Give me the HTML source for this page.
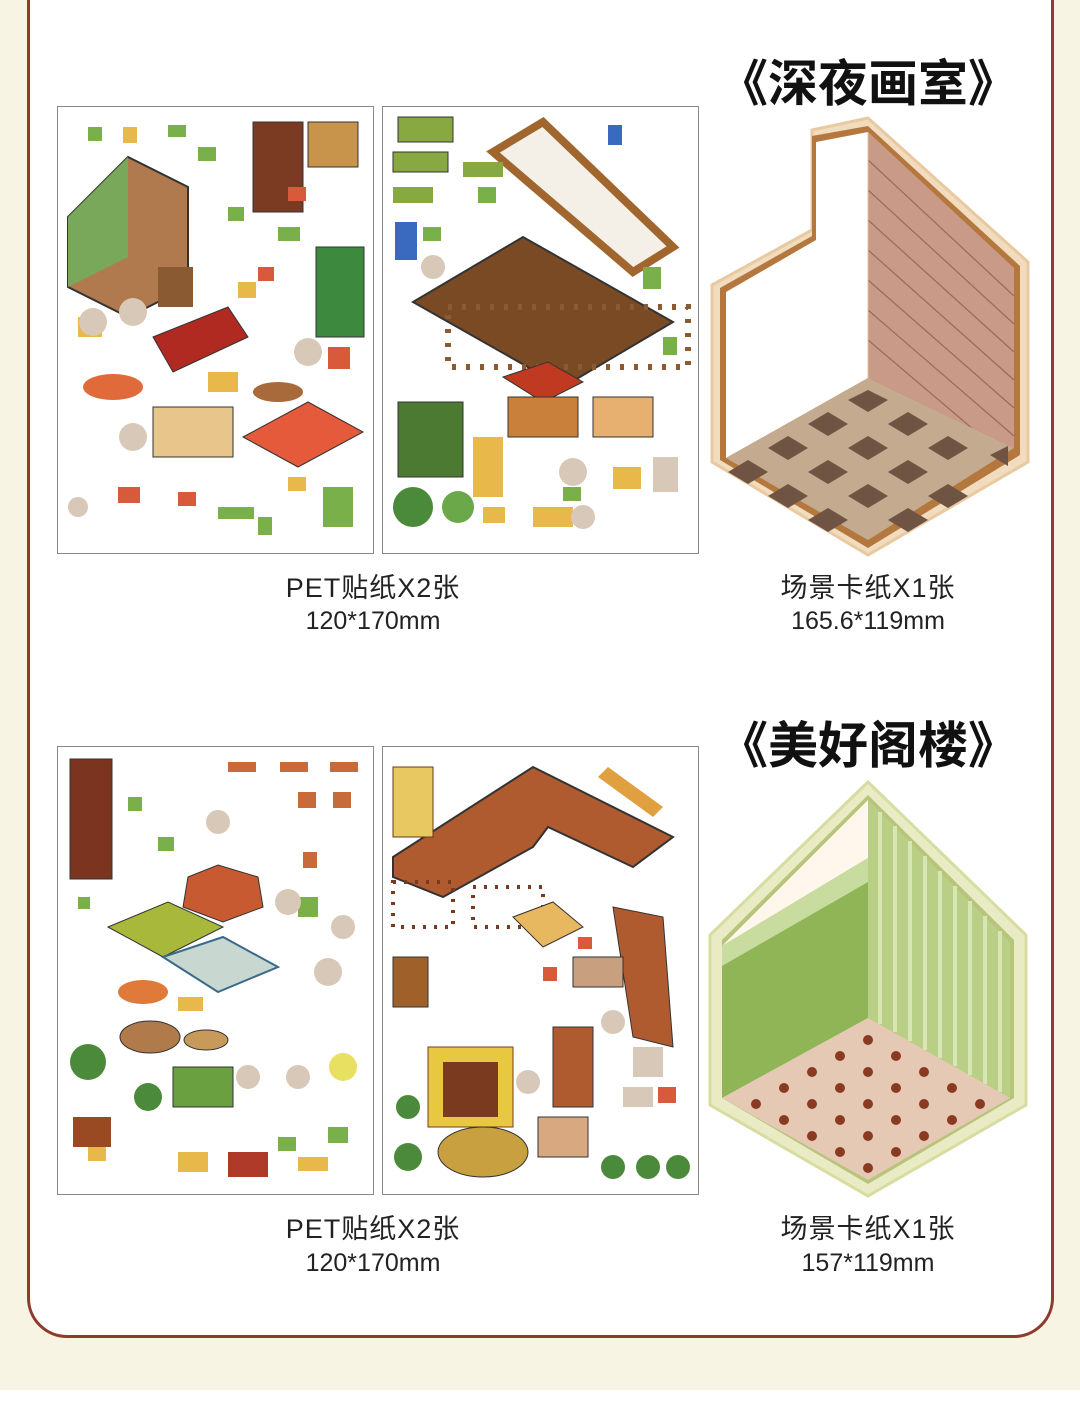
<!DOCTYPE html>
<html><head><meta charset="utf-8">
<style>
html,body{margin:0;padding:0}
body{width:1080px;height:1410px;background:#f8f4e4;position:relative;overflow:hidden;font-family:"Liberation Sans","Noto Sans CJK SC",sans-serif}
.card{position:absolute;left:27px;top:-40px;width:1027px;height:1378px;background:#fff;border:3px solid #8e3b2c;border-radius:0 0 40px 40px;box-sizing:border-box}
.sheet{position:absolute;border:1.5px solid #888;background:#fff;box-sizing:border-box;overflow:hidden}
.t{position:absolute;text-align:center;color:#222;width:360px}
.title{position:absolute;font-weight:bold;font-size:50px;color:#111;width:360px;text-align:center;font-family:"Noto Sans CJK SC",sans-serif}
.cap{font-size:27px;letter-spacing:1px}
.dim{font-size:25px}
.bot{position:absolute;left:0;top:1390px;width:1080px;height:20px;background:#fff}
</style></head><body>
<div class="card"></div>
<div class="bot"></div>

<div class="title" style="left:688px;top:44px">《深夜画室》</div>
<div class="title" style="left:688px;top:706px">《美好阁楼》</div>

<!-- sheets row 1 -->
<div class="sheet" style="left:57px;top:106px;width:317px;height:448px">
<svg width="317" height="448">
<polygon points="10,110 70,50 130,80 130,180 70,210 10,180" fill="#b07a4e" stroke="#333" stroke-width="2"/>
<polygon points="10,110 70,50 70,150 10,180" fill="#7aa85a"/>
<rect x="195" y="15" width="50" height="90" fill="#7a3b22" stroke="#333"/>
<rect x="250" y="15" width="50" height="45" fill="#c8934a" stroke="#333"/>
<rect x="258" y="140" width="48" height="90" fill="#3d8a3f" stroke="#333"/>
<polygon points="95,230 170,200 190,230 115,265" fill="#b02a22" stroke="#333"/>
<rect x="95" y="300" width="80" height="50" fill="#e8c58a" stroke="#333"/>
<polygon points="185,330 250,295 305,325 240,360" fill="#e55a3a" stroke="#333"/>
<ellipse cx="55" cy="280" rx="30" ry="13" fill="#e06a3a"/>
<ellipse cx="220" cy="285" rx="25" ry="10" fill="#a86a3a"/>
<rect x="100" y="160" width="35" height="40" fill="#8a5a32"/>
<g fill="#7ab04a"><rect x="30" y="20" width="14" height="14"/><rect x="110" y="18" width="18" height="12"/><rect x="140" y="40" width="18" height="14"/><rect x="170" y="100" width="16" height="14"/><rect x="220" y="120" width="22" height="14"/><rect x="160" y="400" width="36" height="12"/><rect x="265" y="380" width="30" height="40"/><rect x="200" y="410" width="14" height="18"/></g>
<g fill="#d95a3a"><rect x="230" y="80" width="18" height="14"/><rect x="200" y="160" width="16" height="14"/><rect x="60" y="380" width="22" height="16"/><rect x="270" y="240" width="22" height="22"/><rect x="120" y="385" width="18" height="14"/></g>
<g fill="#e8b84a"><rect x="65" y="20" width="14" height="16"/><rect x="180" y="175" width="18" height="16"/><rect x="150" y="265" width="30" height="20"/><rect x="20" y="210" width="24" height="20"/><rect x="230" y="370" width="18" height="14"/></g>
<g fill="#d8c8b8"><circle cx="35" cy="215" r="14"/><circle cx="75" cy="205" r="14"/><circle cx="250" cy="245" r="14"/><circle cx="75" cy="330" r="14"/><circle cx="20" cy="400" r="10"/></g>
</svg></div>
<div class="sheet" style="left:382px;top:106px;width:317px;height:448px">
<svg width="317" height="448">
<polygon points="110,45 160,15 290,140 250,165" fill="#f4f0e8" stroke="#a0662e" stroke-width="8"/>
<polygon points="30,195 140,130 290,215 180,280" fill="#7a4a24" stroke="#333" stroke-width="2"/>
<rect x="65" y="200" width="240" height="60" fill="none" stroke="#8a5a32" stroke-width="6" stroke-dasharray="4 10"/>
<polygon points="120,270 165,255 200,275 160,295" fill="#c03a22" stroke="#333"/>
<rect x="125" y="290" width="70" height="40" fill="#c8803a" stroke="#333"/>
<rect x="15" y="295" width="65" height="75" fill="#4d7a32" stroke="#333"/>
<rect x="15" y="10" width="55" height="25" fill="#88a842" stroke="#333"/>
<rect x="10" y="45" width="55" height="20" fill="#88a842" stroke="#333"/>
<rect x="80" y="55" width="40" height="15" fill="#88a842"/>
<rect x="10" y="80" width="40" height="16" fill="#88a842"/>
<rect x="210" y="290" width="60" height="40" fill="#e8b070" stroke="#333"/>
<circle cx="30" cy="400" r="20" fill="#4a8a3a"/><circle cx="75" cy="400" r="16" fill="#6aa84a"/>
<g fill="#7ab04a"><rect x="95" y="80" width="18" height="16"/><rect x="40" y="120" width="18" height="14"/><rect x="260" y="160" width="18" height="22"/><rect x="280" y="230" width="14" height="18"/><rect x="180" y="380" width="18" height="14"/></g>
<g fill="#3a6ac0"><rect x="12" y="115" width="22" height="38"/><rect x="225" y="18" width="14" height="20"/></g>
<g fill="#e8b84a"><rect x="100" y="400" width="22" height="16"/><rect x="230" y="360" width="28" height="22"/><rect x="150" y="400" width="40" height="20"/><rect x="90" y="330" width="30" height="60"/></g>
<g fill="#d8c8b8"><circle cx="190" cy="365" r="14"/><circle cx="200" cy="410" r="12"/><rect x="270" y="350" width="25" height="35"/><circle cx="50" cy="160" r="12"/></g>
</svg></div>

<!-- sheets row 2 -->
<div class="sheet" style="left:57px;top:746px;width:317px;height:449px">
<svg width="317" height="449">
<rect x="12" y="12" width="42" height="120" fill="#7a3420" stroke="#333"/>
<polygon points="130,130 160,118 200,130 205,160 165,175 125,160" fill="#c85a32" stroke="#333"/>
<polygon points="50,180 110,155 165,180 105,210" fill="#a8b83a" stroke="#333"/>
<polygon points="105,210 165,190 220,220 160,245" fill="#c8d8d0" stroke="#3a6a8a" stroke-width="2"/>
<ellipse cx="85" cy="245" rx="25" ry="12" fill="#e07a3a"/>
<ellipse cx="92" cy="290" rx="30" ry="16" fill="#b07a4a" stroke="#333"/>
<ellipse cx="148" cy="293" rx="22" ry="10" fill="#c89a5a" stroke="#333"/>
<rect x="115" y="320" width="60" height="40" fill="#6aa040" stroke="#333"/>
<rect x="15" y="370" width="38" height="30" fill="#9a4a22"/>
<rect x="170" y="405" width="40" height="25" fill="#b03a2a"/>
<circle cx="30" cy="315" r="18" fill="#4a8a3a"/><circle cx="90" cy="350" r="14" fill="#4a8a3a"/>
<circle cx="285" cy="320" r="14" fill="#e8e060"/>
<g fill="#c86a3a"><rect x="170" y="15" width="28" height="10"/><rect x="222" y="15" width="28" height="10"/><rect x="272" y="15" width="28" height="10"/><rect x="240" y="45" width="18" height="16"/><rect x="275" y="45" width="18" height="16"/><rect x="245" y="105" width="14" height="16"/></g>
<g fill="#7ab04a"><rect x="70" y="50" width="14" height="14"/><rect x="100" y="90" width="16" height="14"/><rect x="20" y="150" width="12" height="12"/><rect x="240" y="150" width="20" height="20"/><rect x="220" y="390" width="18" height="14"/><rect x="270" y="380" width="20" height="16"/></g>
<g fill="#d8c8b8"><circle cx="160" cy="75" r="12"/><circle cx="230" cy="155" r="13"/><circle cx="285" cy="180" r="12"/><circle cx="190" cy="330" r="12"/><circle cx="240" cy="330" r="12"/><circle cx="270" cy="225" r="14"/></g>
<g fill="#e8b84a"><rect x="120" y="250" width="25" height="14"/><rect x="30" y="400" width="18" height="14"/><rect x="120" y="405" width="30" height="20"/><rect x="240" y="410" width="30" height="14"/></g>
</svg></div>
<div class="sheet" style="left:382px;top:746px;width:317px;height:449px">
<svg width="317" height="449">
<polygon points="10,110 150,20 290,90 250,120 165,80 150,100 60,150 10,130" fill="#b05a30" stroke="#333" stroke-width="2"/>
<rect x="10" y="20" width="40" height="70" fill="#e8c860" stroke="#6a3a1a"/>
<polygon points="225,20 280,60 270,70 215,30" fill="#e0a040"/>
<rect x="10" y="135" width="60" height="45" fill="none" stroke="#7a3a20" stroke-width="4" stroke-dasharray="3 8"/>
<rect x="90" y="140" width="70" height="40" fill="none" stroke="#7a3a20" stroke-width="4" stroke-dasharray="3 8"/>
<polygon points="130,170 170,155 200,180 160,200" fill="#e8b860" stroke="#333"/>
<polygon points="230,160 280,170 290,300 250,290" fill="#b05a30" stroke="#333"/>
<rect x="190" y="210" width="50" height="30" fill="#c8a080" stroke="#333"/>
<rect x="45" y="300" width="85" height="80" fill="#e8c840" stroke="#7a3a20"/>
<rect x="60" y="315" width="55" height="55" fill="#7a3a20"/>
<ellipse cx="100" cy="405" rx="45" ry="25" fill="#c8a040" stroke="#333"/>
<rect x="170" y="280" width="40" height="80" fill="#b05a30" stroke="#333"/>
<rect x="155" y="370" width="50" height="40" fill="#d8a880" stroke="#333"/>
<rect x="10" y="210" width="35" height="50" fill="#a0602a" stroke="#333"/>
<g fill="#4a8a3a"><circle cx="25" cy="410" r="14"/><circle cx="230" cy="420" r="12"/><circle cx="265" cy="420" r="12"/><circle cx="295" cy="420" r="12"/><circle cx="25" cy="360" r="12"/></g>
<g fill="#d8c8b8"><circle cx="145" cy="335" r="12"/><circle cx="230" cy="275" r="12"/><rect x="250" y="300" width="30" height="30"/><rect x="240" y="340" width="30" height="20"/></g>
<g fill="#d95a3a"><rect x="160" y="220" width="14" height="14"/><rect x="195" y="190" width="14" height="12"/><rect x="275" y="340" width="18" height="16"/></g>
</svg></div>

<!-- room 1 -->
<svg style="position:absolute;left:700px;top:110px" width="340" height="450">
<g transform="translate(-700,-110)">
<polygon points="712,285 812,230 812,130 868,118 1028,262 1028,462 868,555 712,462" fill="#f1dcbf" stroke="#e8c9a0" stroke-width="3"/>
<polygon points="720,288 812,236 812,136 868,126 1020,266 1020,455 868,548 720,460" fill="#b4783e"/>
<polygon points="726,292 816,240 816,142 868,132 868,378 726,458" fill="#fff"/>
<polygon points="868,132 1014,268 1014,448 868,378" fill="#c99a87"/>
<g stroke="#9a6a5a" stroke-width="1.2">
<line x1="868" y1="160" x2="1014" y2="296"/><line x1="868" y1="190" x2="1014" y2="324"/><line x1="868" y1="220" x2="1014" y2="352"/><line x1="868" y1="250" x2="1014" y2="380"/><line x1="868" y1="280" x2="1014" y2="408"/><line x1="868" y1="310" x2="1014" y2="436"/><line x1="868" y1="340" x2="1000" y2="452"/>
</g>
<polygon points="726,458 868,378 1014,448 868,540" fill="#c4aa8e"/>
<g fill="#6f5444">
<polygon points="868,390 888,400 868,412 848,400"/><polygon points="828,412 848,424 828,436 808,424"/><polygon points="908,412 928,424 908,436 888,424"/><polygon points="868,436 888,448 868,460 848,448"/><polygon points="788,436 808,448 788,460 768,448"/><polygon points="948,436 968,448 948,460 928,448"/><polygon points="828,460 848,472 828,484 808,472"/><polygon points="908,460 928,472 908,484 888,472"/><polygon points="868,484 888,496 868,508 848,496"/><polygon points="990,455 1008,446 1008,466"/><polygon points="748,460 768,472 748,484 728,472"/><polygon points="788,484 808,496 788,508 768,496"/><polygon points="948,484 968,496 948,508 928,496"/><polygon points="828,508 848,520 828,532 808,520"/><polygon points="908,508 928,520 908,532 888,520"/>
</g>
<line x1="868" y1="132" x2="868" y2="378" stroke="#e0c0a0"/>
</g></svg>

<!-- room 2 -->
<svg style="position:absolute;left:700px;top:775px" width="340" height="430">
<g transform="translate(-700,-775)">
<polygon points="868,782 1026,935 1026,1105 868,1196 710,1105 710,935" fill="#e8ebc4" stroke="#d8dca0" stroke-width="3"/>
<polygon points="868,795 1014,940 1014,1098 868,1184 722,1098 722,940" fill="#b8c47a"/>
<polygon points="868,800 722,946 722,1098 868,1018" fill="#fff6ec"/>
<polygon points="722,946 868,858 868,1018 722,1098" fill="#8fb556"/>
<polygon points="722,946 868,858 868,882 722,966" fill="#c9dca0"/>
<polygon points="868,800 1010,942 1010,1098 868,1018" fill="#b9cf86"/>
<g stroke="#d8e6b6" stroke-width="4">
<line x1="880" y1="812" x2="880" y2="1024"/><line x1="895" y1="826" x2="895" y2="1032"/><line x1="910" y1="841" x2="910" y2="1041"/><line x1="925" y1="856" x2="925" y2="1050"/><line x1="940" y1="871" x2="940" y2="1058"/><line x1="955" y1="886" x2="955" y2="1066"/><line x1="970" y1="901" x2="970" y2="1075"/><line x1="985" y1="916" x2="985" y2="1084"/><line x1="1000" y1="931" x2="1000" y2="1092"/>
</g>
<polygon points="722,1098 868,1018 1010,1098 868,1180" fill="#e6c9b4"/>
<g fill="#8a3a22">
<circle cx="868" cy="1040" r="5"/><circle cx="840" cy="1056" r="5"/><circle cx="896" cy="1056" r="5"/><circle cx="812" cy="1072" r="5"/><circle cx="868" cy="1072" r="5"/><circle cx="924" cy="1072" r="5"/><circle cx="784" cy="1088" r="5"/><circle cx="840" cy="1088" r="5"/><circle cx="896" cy="1088" r="5"/><circle cx="952" cy="1088" r="5"/><circle cx="756" cy="1104" r="5"/><circle cx="812" cy="1104" r="5"/><circle cx="868" cy="1104" r="5"/><circle cx="924" cy="1104" r="5"/><circle cx="980" cy="1104" r="5"/><circle cx="784" cy="1120" r="5"/><circle cx="840" cy="1120" r="5"/><circle cx="896" cy="1120" r="5"/><circle cx="952" cy="1120" r="5"/><circle cx="812" cy="1136" r="5"/><circle cx="868" cy="1136" r="5"/><circle cx="924" cy="1136" r="5"/><circle cx="840" cy="1152" r="5"/><circle cx="896" cy="1152" r="5"/><circle cx="868" cy="1168" r="5"/>
</g>
</g></svg>

<!-- captions -->
<div class="t cap" style="left:193px;top:566px">PET贴纸X2张</div>
<div class="t dim" style="left:193px;top:607px">120*170mm</div>
<div class="t cap" style="left:688px;top:566px">场景卡纸X1张</div>
<div class="t dim" style="left:688px;top:607px">165.6*119mm</div>
<div class="t cap" style="left:193px;top:1207px">PET贴纸X2张</div>
<div class="t dim" style="left:193px;top:1249px">120*170mm</div>
<div class="t cap" style="left:688px;top:1207px">场景卡纸X1张</div>
<div class="t dim" style="left:688px;top:1249px">157*119mm</div>
</body></html>
